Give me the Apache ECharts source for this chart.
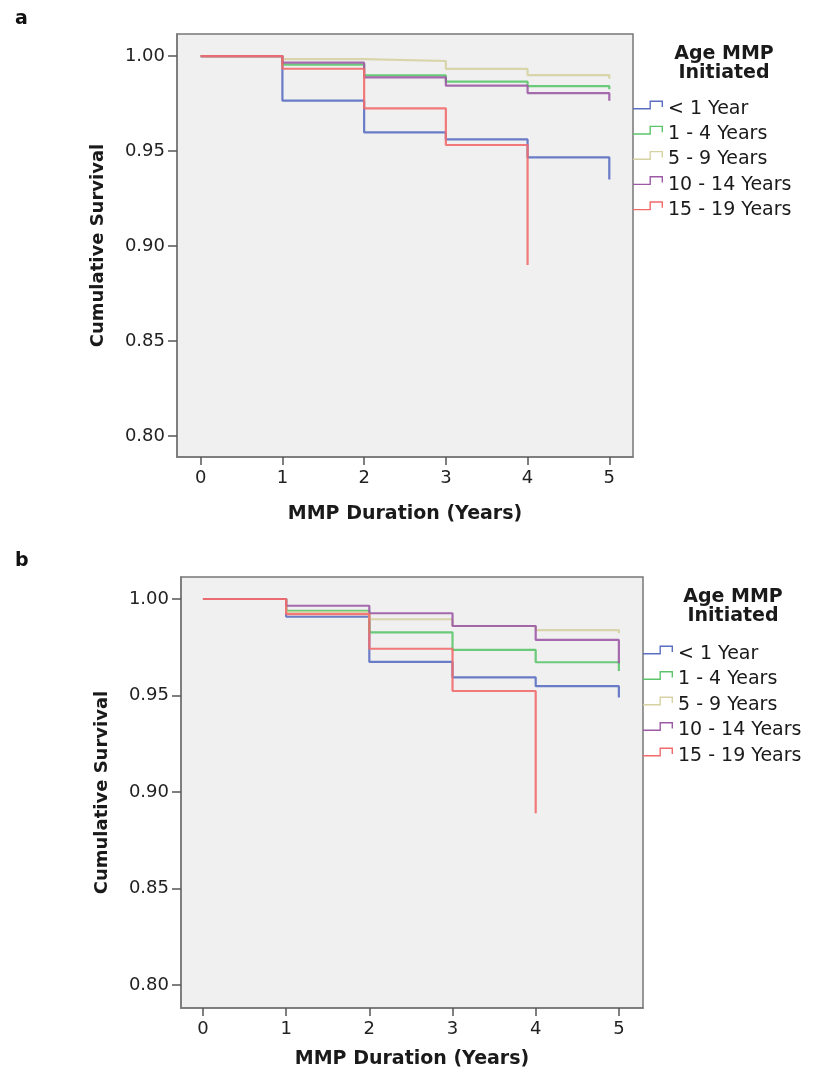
<!DOCTYPE html>
<html>
<head>
<meta charset="utf-8">
<script src="https://cdn.jsdelivr.net/npm/echarts@6/dist/echarts.min.js"></script>
<style>
  html, body { margin: 0; padding: 0; background: #ffffff; }
  #chart { width: 819px; height: 1083px; }
</style>
</head>
<body>
<div id="chart"></div>
<script>
// ---- Data ----
var groups = ['< 1 Year', '1 - 4 Years', '5 - 9 Years', '10 - 14 Years', '15 - 19 Years'];
var times = [0, 1, 2, 3, 4, 5];
var xTicks = [0, 1, 2, 3, 4, 5];
var yTicks = [0.80, 0.85, 0.90, 0.95, 1.00];

// Panel a: survival level after each step time
var a_lt1    = [1.000, 0.9765, 0.9598, 0.9561, 0.9467, 0.9350];
var a_1to4   = [1.000, 0.9955, 0.9898, 0.9865, 0.9842, 0.9825];
var a_5to9   = [1.000, 0.9984, 0.9974, 0.9932, 0.9900, 0.9880];
var a_10to14 = [1.000, 0.9965, 0.9888, 0.9844, 0.9805, 0.9765];
var a_15to19 = [1.000, 0.9933, 0.9725, 0.9532, 0.8900];

// Panel b
var b_lt1    = [1.000, 0.9908, 0.9674, 0.9594, 0.9548, 0.9489];
var b_1to4   = [1.000, 0.9939, 0.9827, 0.9736, 0.9672, 0.9627];
var b_5to9   = [1.000, 0.9931, 0.9895, 0.9860, 0.9839, 0.9822];
var b_10to14 = [1.000, 0.9965, 0.9926, 0.9860, 0.9788, 0.9667];
var b_15to19 = [1.000, 0.9922, 0.9742, 0.9523, 0.8890];

var panelA = [a_lt1, a_1to4, a_5to9, a_10to14, a_15to19];
var panelB = [b_lt1, b_1to4, b_5to9, b_10to14, b_15to19];

// ---- Styles ----
var colors = ['#5b6fc2', '#5cc56c', '#d6d2a2', '#9c5aa5', '#f26b6b'];
var FONT = '"DejaVu Sans", "Liberation Sans", Arial, sans-serif';
// step-shaped legend glyph; the tiny extra subpath at the bottom only lifts the glyph within its box
var stepIcon = 'path://M0,7.6 L16.5,7.6 L16.5,0 L30,0 L30,6.5 L28.6,6.5 L28.6,1.4 L17.9,1.4 L17.9,9 L0,9 Z M0,17 L0.01,17 L0,16.99 Z';

function pairs(vals) {
  return vals.map(function (v, i) { return [times[i], v]; });
}

function xAxisDef(gridIndex, min, max, nameGap) {
  return {
    type: 'value', gridIndex: gridIndex, min: min, max: max,
    name: 'MMP Duration (Years)', nameLocation: 'middle', nameGap: nameGap,
    nameTextStyle: { fontFamily: FONT, fontWeight: 'bold', fontSize: 19, color: '#1a1a1a' },
    axisLine: { show: true, onZero: false, lineStyle: { color: '#777', width: 1.5 } },
    axisTick: { show: true, length: 8, customValues: xTicks, lineStyle: { color: '#555', width: 1.5 } },
    axisLabel: { customValues: xTicks, margin: 12, fontFamily: FONT, fontSize: 18, color: '#222',
      formatter: function (v) { return String(v); } },
    splitLine: { show: false }
  };
}

function yAxisDef(gridIndex, min, max) {
  return {
    type: 'value', gridIndex: gridIndex, min: min, max: max,
    name: 'Cumulative Survival', nameLocation: 'middle', nameGap: 70,
    nameTextStyle: { fontFamily: FONT, fontWeight: 'bold', fontSize: 18, color: '#1a1a1a' },
    axisLine: { show: true, onZero: false, lineStyle: { color: '#777', width: 1.5 } },
    axisTick: { show: true, length: 9, customValues: yTicks, lineStyle: { color: '#555', width: 1.5 } },
    axisLabel: { customValues: yTicks, margin: 12, fontFamily: FONT, fontSize: 18, color: '#222',
      formatter: function (v) { return v.toFixed(2); } },
    splitLine: { show: false }
  };
}

var series = [];
[panelA, panelB].forEach(function (panel, p) {
  panel.forEach(function (vals, i) {
    series.push({
      name: groups[i], type: 'line', step: 'end',
      xAxisIndex: p, yAxisIndex: p,
      data: pairs(vals),
      symbol: 'none', showSymbol: false,
      color: colors[i],
      lineStyle: { color: colors[i], width: 2.2, opacity: 0.9 },
      emphasis: { disabled: true },
      animation: false
    });
  });
});

function legendDef(left, top, gap) {
  return {
    orient: 'vertical', left: left, top: top, padding: 0,
    itemWidth: 30, itemHeight: 17, itemGap: gap,
    icon: stepIcon, symbolKeepAspect: false,
    itemStyle: { borderWidth: 0 },
    textStyle: { fontFamily: FONT, fontSize: 19, color: '#1a1a1a', lineHeight: 20 },
    data: groups, selectedMode: false
  };
}

var chart = echarts.init(document.getElementById('chart'), null, { renderer: 'canvas' });
chart.setOption({
  animation: false,
  backgroundColor: '#ffffff',
  title: [
    { text: 'a', left: 10, top: 5, textStyle: { fontFamily: FONT, fontWeight: 'bold', fontSize: 19, color: '#111' } },
    { text: 'b', left: 10, top: 547, textStyle: { fontFamily: FONT, fontWeight: 'bold', fontSize: 19, color: '#111' } },
    { text: 'Age MMP\nInitiated', left: 719, top: 40, textAlign: 'center',
      textStyle: { fontFamily: FONT, fontWeight: 'bold', fontSize: 19, lineHeight: 19, color: '#1a1a1a' } },
    { text: 'Age MMP\nInitiated', left: 728, top: 583, textAlign: 'center',
      textStyle: { fontFamily: FONT, fontWeight: 'bold', fontSize: 19, lineHeight: 19, color: '#1a1a1a' } }
  ],
  legend: [legendDef(633, 99, 5.2), legendDef(643, 644, 5.5)],
  grid: [
    { left: 177, top: 34, width: 456, height: 423, show: true, backgroundColor: '#f0f0f0', borderColor: '#777', borderWidth: 1.5 },
    { left: 181, top: 577, width: 462, height: 431, show: true, backgroundColor: '#f0f0f0', borderColor: '#777', borderWidth: 1.5 }
  ],
  xAxis: [xAxisDef(0, -0.29, 5.29, 48), xAxisDef(1, -0.264, 5.29, 42)],
  yAxis: [yAxisDef(0, 0.789, 1.0116), yAxisDef(1, 0.788, 1.0114)],
  series: series
});
</script>
</body>
</html>
